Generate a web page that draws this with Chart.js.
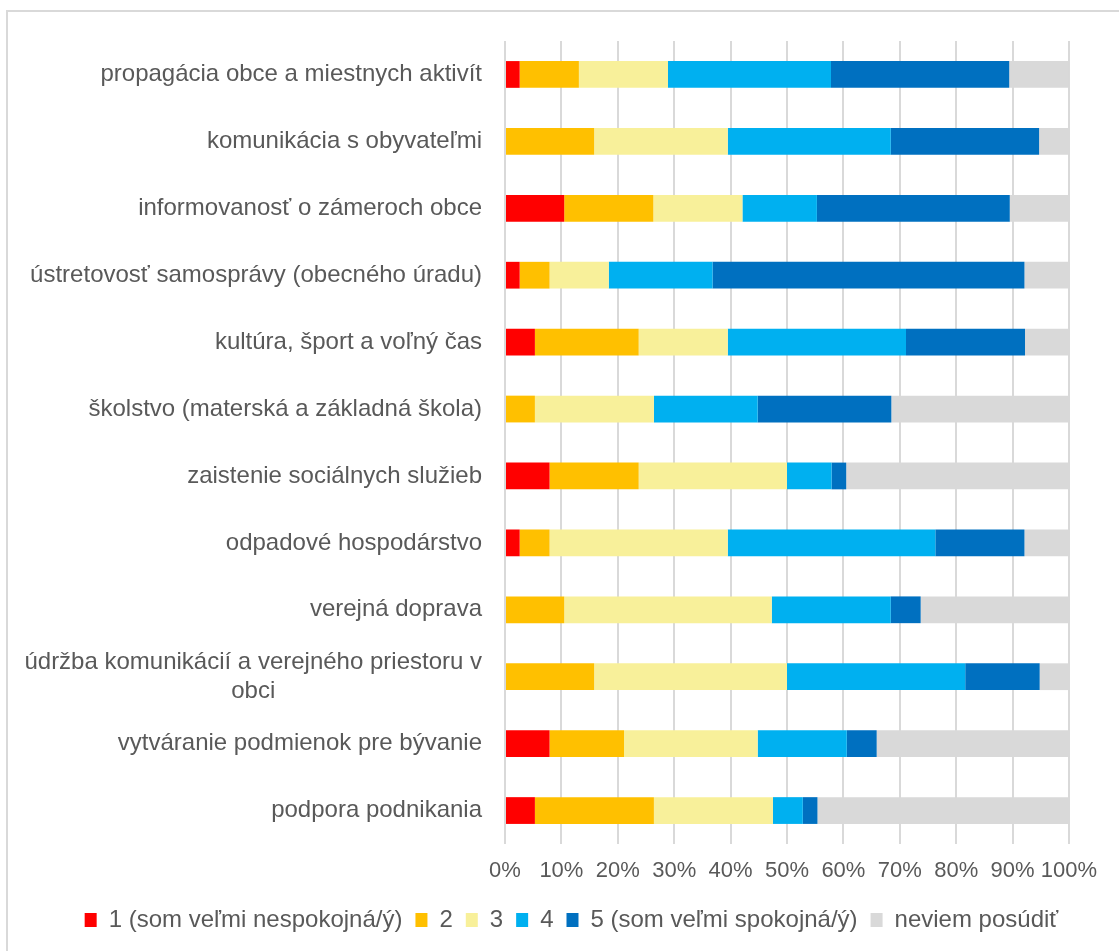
<!DOCTYPE html>
<html>
<head>
<meta charset="utf-8">
<script src="https://cdn.jsdelivr.net/npm/chart.js@4/dist/chart.umd.min.js"></script>
<style>
    body { margin: 0; background: #fff; overflow: hidden; }
    #frame { position: absolute; left: 6px; top: 10px; width: 1200px; height: 1000px; border: 2px solid #d9d9d9; }
    #wrap { position: absolute; left: 0; top: 0; width: 1119px; height: 951px; }
</style>
</head>
<body>
<div id="frame"></div>
<div id="wrap"><canvas id="myChart"></canvas></div>
<script>
// categories, top to bottom
const categories = [
    "propagácia obce a miestnych aktivít",
    "komunikácia s obyvateľmi",
    "informovanosť o zámeroch obce",
    "ústretovosť samosprávy (obecného úradu)",
    "kultúra, šport a voľný čas",
    "školstvo (materská a základná škola)",
    "zaistenie sociálnych služieb",
    "odpadové hospodárstvo",
    "verejná doprava",
    ["údržba komunikácií a verejného priestoru v", "obci"],
    "vytváranie podmienok pre bývanie",
    "podpora podnikania"
];
const seriesNames = ["1 (som veľmi nespokojná/ý)", "2", "3", "4", "5 (som veľmi spokojná/ý)", "neviem posúdiť"];

// values in %
const s1 = [2.6, 0, 10.5, 2.6, 5.3, 0, 7.9, 2.6, 0, 0, 7.9, 5.3];
const s2 = [10.5, 15.8, 15.8, 5.3, 18.4, 5.3, 15.8, 5.3, 10.5, 15.8, 13.2, 21.1];
const s3 = [15.8, 23.7, 15.8, 10.5, 15.8, 21.1, 26.3, 31.6, 36.8, 34.2, 23.7, 21.1];
const s4 = [28.9, 28.9, 13.2, 18.4, 31.6, 18.4, 7.9, 36.8, 21.1, 31.6, 15.8, 5.3];
const s5 = [31.6, 26.3, 34.2, 55.3, 21.1, 23.7, 2.6, 15.8, 5.3, 13.2, 5.3, 2.6];
const s6 = [10.5, 5.3, 10.5, 7.9, 7.9, 31.6, 39.5, 7.9, 26.3, 5.3, 34.2, 44.7];

const xTicks = [0, 10, 20, 30, 40, 50, 60, 70, 80, 90, 100];

const colors = ["#ff0000", "#ffc000", "#f8f09a", "#00b0f0", "#0070c0", "#d9d9d9"];
const txtColor = "#595959";
const fontFam = "'Liberation Sans', Arial, sans-serif";

const allSeries = [s1, s2, s3, s4, s5, s6];
const datasets = allSeries.map(function (d, i) {
    return {
        label: seriesNames[i],
        data: d,
        backgroundColor: colors[i],
        borderWidth: 0,
        barPercentage: 0.4,
        categoryPercentage: 1
    };
});

// y labels drawn by hand so the wrapped one can be centred
const yLabels = {
    id: "yLabels",
    afterDraw: function (chart) {
        const ctx = chart.ctx;
        const sc = chart.scales.y;
        const right = 482;
        ctx.save();
        ctx.fillStyle = txtColor;
        ctx.font = "24px " + fontFam;
        ctx.textBaseline = "middle";
        categories.forEach(function (lab, i) {
            const y = sc.getPixelForValue(i);
            if (Array.isArray(lab)) {
                const w1 = ctx.measureText(lab[0]).width;
                ctx.textAlign = "right";
                ctx.fillText(lab[0], right, y - 14);
                ctx.textAlign = "center";
                ctx.fillText(lab[1], right - w1 / 2, y + 15);
            } else {
                ctx.textAlign = "right";
                ctx.fillText(lab, right, y);
            }
        });
        ctx.restore();
    }
};

// nudge the legend row a bit to the right, like in the original
const legendShift = {
    id: "legendShift",
    afterLayout: function (chart) {
        chart.legend.left += 16;
        chart.legend.right += 16;
    }
};

new Chart("myChart", {
    type: "bar",
    data: {
        labels: categories,
        datasets: datasets
    },
    options: {
        indexAxis: "y",
        responsive: true,
        maintainAspectRatio: false,
        animation: false,
        layout: { padding: { top: 41, right: 50, left: 42, bottom: 9 } },
        scales: {
            x: {
                stacked: true,
                min: 0,
                max: 100,
                afterBuildTicks: function (scale) {
                    scale.ticks = xTicks.map(function (v) { return { value: v }; });
                },
                afterFit: function (scale) { scale.height = 51; },
                grid: { color: "#d9d9d9", lineWidth: 2, drawTicks: false },
                border: { display: false },
                ticks: {
                    color: txtColor,
                    padding: 14,
                    maxRotation: 0,
                    autoSkip: false,
                    font: { family: fontFam, size: 22 },
                    callback: function (v) { return v + "%"; }
                }
            },
            y: {
                stacked: true,
                afterFit: function (scale) { scale.width = 463; },
                grid: { display: false },
                border: { display: false },
                ticks: { display: false }
            }
        },
        plugins: {
            legend: {
                position: "bottom",
                labels: {
                    color: txtColor,
                    boxWidth: 12,
                    boxHeight: 14,
                    padding: 13,
                    font: { family: fontFam, size: 24 }
                }
            },
            tooltip: { enabled: false }
        }
    },
    plugins: [yLabels, legendShift]
});
</script>
</body>
</html>
